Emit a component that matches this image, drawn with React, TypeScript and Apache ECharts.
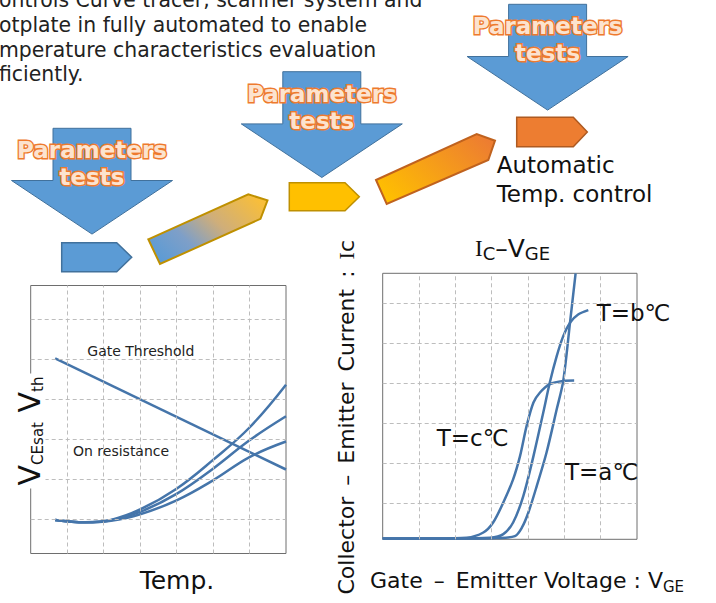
import React, { useEffect, useRef } from 'react';
import * as echarts from 'echarts';

// ---------- Left chart: V_CEsat / V_th vs Temp. ----------
const tempGridX = [1, 2, 3, 4, 5, 6];
const voltGridY = [1, 2, 3, 4, 5, 6];
const gateThreshold: number[][] = [[0.67, 5.03], [7, 2.25]];
const onResistanceA: number[][] = [[0.67, 0.99], [1.5, 0.93], [2.2, 0.99], [3, 1.25], [4, 1.77], [5, 2.49], [6, 3.3], [7, 4.37]];
const onResistanceB: number[][] = [[0.67, 0.99], [1.5, 0.93], [2.2, 0.98], [3, 1.19], [4, 1.64], [5, 2.27], [6, 2.98], [7, 3.58]];
const onResistanceC: number[][] = [[0.67, 0.99], [1.5, 0.93], [2.2, 0.97], [3, 1.13], [4, 1.48], [5, 1.98], [6, 2.56], [7, 2.95]];

// ---------- Right chart: Ic - VGE ----------
const vgeGridX = [1, 2, 3, 4, 5, 6];
const icGridY = [1, 2, 3, 4, 5, 6];
const icTempA: number[][] = [[0, 0.12], [2.5, 0.12], [3.14, 0.13], [3.64, 0.18], [3.83, 0.39], [4.01, 0.77], [4.24, 1.43], [4.51, 2.27], [4.79, 3.35], [4.97, 4.06], [5.16, 5.55], [5.31, 6.75]];
const icTempB: number[][] = [[0, 0.12], [2.0, 0.12], [2.95, 0.14], [3.32, 0.23], [3.59, 0.52], [3.87, 1.18], [4.15, 2.18], [4.42, 3.27], [4.6, 4.02], [4.79, 4.68], [4.97, 5.18], [5.16, 5.52], [5.38, 5.72], [5.66, 5.83]];
const icTempC: number[][] = [[0, 0.12], [1.5, 0.12], [2.31, 0.14], [2.77, 0.27], [3.04, 0.52], [3.32, 1.02], [3.59, 1.6], [3.78, 2.18], [3.96, 2.93], [4.15, 3.52], [4.33, 3.77], [4.6, 3.98], [4.97, 4.06], [5.27, 4.07]];

// ---------- Texts ----------
const paragraphLines = [
  'ontrols Curve tracer, scanner system and',
  'otplate in fully automated to enable',
  'mperature characteristics evaluation',
  'ficiently.',
];
const paramLabel = ['Parameters', 'tests'];
const autoLabel = ['Automatic', 'Temp. control'];
const EN = '\u2002';

const LINE = '#4575AA';
const GRIDLINE = '#BDBDBD';
const BORDER = '#6E6E6E';
const FONT = "'DejaVu Sans', 'Noto Sans CJK JP', sans-serif";

function bigArrow(cx: number, top: number) {
  const sh = 39, wh = 80.5, h1 = 52.2, h2 = 53.6;
  return {
    type: 'polygon',
    z: 10,
    shape: {
      points: [
        [cx - sh, top], [cx + sh, top], [cx + sh, top + h1], [cx + wh, top + h1],
        [cx, top + h1 + h2], [cx - wh, top + h1], [cx - sh, top + h1],
      ],
    },
    style: { fill: '#5B9BD5', stroke: '#41719C', lineWidth: 1 },
  };
}

function paramTexts(cx: number, top: number) {
  return paramLabel.map((t, i) => ({
    type: 'text',
    z: 12,
    x: cx,
    y: top + 22 + i * 27,
    style: {
      text: t,
      fontSize: 23,
      fontWeight: 'bold',
      fontFamily: FONT,
      fill: '#FCE3CF',
      stroke: '#EE7A2E',
      lineWidth: 2.8,
      align: 'center',
      verticalAlign: 'middle',
    },
  }));
}

function homePlate(x0: number, y0: number, xn: number, xt: number, y1: number, fill: string, stroke: string) {
  const ym = (y0 + y1) / 2;
  return {
    type: 'polygon',
    z: 10,
    shape: { points: [[x0, y0], [xn, y0], [xt, ym], [xn, y1], [x0, y1]] },
    style: { fill, stroke, lineWidth: 1.5 },
  };
}

function makeOption(): any {
  const markGrid = (xs: number[], ys: number[], xi: number) => ({
    type: 'line',
    xAxisIndex: xi,
    yAxisIndex: xi,
    data: [],
    silent: true,
    z: 1,
    markLine: {
      silent: true,
      symbol: ['none', 'none'],
      animation: false,
      label: { show: false },
      emphasis: { disabled: true },
      lineStyle: { type: [4, 3], color: GRIDLINE, width: 1 },
      data: [...ys.map((v) => ({ yAxis: v })), ...xs.map((v) => ({ xAxis: v }))],
    },
  });
  const curve = (data: number[][], xi: number, smooth: number | boolean) => ({
    type: 'line',
    xAxisIndex: xi,
    yAxisIndex: xi,
    data,
    smooth,
    symbol: 'none',
    silent: true,
    z: 3,
    lineStyle: { color: LINE, width: 2.5 },
  });
  const hiddenAxis = (gi: number, min: number, max: number) => ({
    gridIndex: gi,
    type: 'value',
    min,
    max,
    show: false,
    splitLine: { show: false },
  });

  const graphics: any[] = [];
  paragraphLines.forEach((t, i) => {
    graphics.push({
      type: 'text', z: 20, x: -1, y: 0.3 + i * 24.6,
      style: { text: t, fontSize: 20.4, fontFamily: FONT, fill: '#222', align: 'left', verticalAlign: 'middle' },
    });
  });
  graphics.push(bigArrow(92, 128.3), bigArrow(321.8, 71.7), bigArrow(547.6, 4.3));
  graphics.push(homePlate(61.7, 242.7, 116.7, 131.7, 271.7, '#5B9BD5', '#41719C'));
  graphics.push(homePlate(289.3, 182.7, 345, 359.3, 210.7, '#FFC000', '#BF9000'));
  graphics.push(homePlate(516.7, 117.3, 573.3, 587.3, 146.7, '#ED7D31', '#AE5A21'));
  graphics.push({
    type: 'polygon', z: 10,
    shape: { points: [[148.3, 239.3], [248.3, 194.3], [267.5, 200.3], [260.5, 218.8], [160, 264]] },
    style: {
      fill: new echarts.graphic.LinearGradient(0, 0.8, 1, 0.2, [
        { offset: 0, color: '#5B9BD5' },
        { offset: 0.3, color: '#7E9FC8' },
        { offset: 0.6, color: '#CFAE7A' },
        { offset: 1, color: '#F8BE3A' },
      ]),
      stroke: '#BF9000', lineWidth: 2,
    },
  });
  graphics.push({
    type: 'polygon', z: 10,
    shape: { points: [[376, 180], [476.7, 134], [495, 140.7], [488.3, 160], [386.7, 204]] },
    style: {
      fill: new echarts.graphic.LinearGradient(0, 0.8, 1, 0.2, [
        { offset: 0, color: '#FFC000' },
        { offset: 1, color: '#ED7D31' },
      ]),
      stroke: '#C0621E', lineWidth: 2,
    },
  });
  graphics.push(...paramTexts(92, 128.3), ...paramTexts(321.8, 71.7), ...paramTexts(547.6, 4.3));
  autoLabel.forEach((t, i) => {
    graphics.push({
      type: 'text', z: 20, x: 496.7, y: 165.3 + i * 28.4,
      style: { text: t, fontSize: 23, fontFamily: FONT, fill: '#111', align: 'left', verticalAlign: 'middle' },
    });
  });
  graphics.push({
    type: 'text', z: 20, x: 87.3, y: 351,
    style: { text: 'Gate Threshold', fontSize: 14, fontFamily: FONT, fill: '#222', align: 'left', verticalAlign: 'middle' },
  });
  graphics.push({
    type: 'text', z: 20, x: 73, y: 451,
    style: { text: 'On resistance', fontSize: 14, fontFamily: FONT, fill: '#222', align: 'left', verticalAlign: 'middle' },
  });
  graphics.push({
    type: 'text', z: 20, x: 177, y: 580,
    style: { text: 'Temp.', fontSize: 25, fontFamily: FONT, fill: '#111', align: 'center', verticalAlign: 'middle' },
  });
  graphics.push({
    type: 'text', z: 30, x: 29, y: 431, rotation: Math.PI / 2,
    style: {
      text: '{v|V}{s|CEsat}{v| V}{s|th}',
      align: 'center', verticalAlign: 'middle',
      backgroundColor: '#fff', padding: [1, 3, 0, 3],
      fill: '#111',
      rich: {
        v: { fontSize: 30, fontFamily: FONT, fill: '#111', lineHeight: 32 },
        s: { fontSize: 15, fontFamily: FONT, fill: '#111', lineHeight: 18, verticalAlign: 'bottom' },
      },
    },
  });
  graphics.push({
    type: 'text', z: 20, x: 475, y: 248,
    style: {
      text: '{i|I}{s|C}{m|–V}{s|GE}',
      align: 'left', verticalAlign: 'middle', fill: '#111',
      rich: {
        i: { fontSize: 23, fontFamily: "'Liberation Serif', serif", fill: '#111', lineHeight: 28 },
        m: { fontSize: 25, fontFamily: FONT, fill: '#111', lineHeight: 28 },
        s: { fontSize: 18, fontFamily: FONT, fill: '#111', lineHeight: 16, verticalAlign: 'bottom' },
      },
    },
  });
  graphics.push({
    type: 'text', z: 20, x: 370, y: 580,
    style: {
      text: `{m|Gate${EN}–${EN}Emitter Voltage : V}{s|GE}`,
      align: 'left', verticalAlign: 'middle', fill: '#111',
      rich: {
        m: { fontSize: 22, fontFamily: FONT, fill: '#111', lineHeight: 28 },
        s: { fontSize: 15, fontFamily: FONT, fill: '#111', lineHeight: 16, verticalAlign: 'bottom' },
      },
    },
  });
  graphics.push({
    type: 'text', z: 20, x: 346, y: 240, rotation: Math.PI / 2,
    style: {
      text: `{m|Collector${EN}–${EN}Emitter${EN}Current${EN}:${EN}}{i|I}{m|c}`,
      align: 'right', verticalAlign: 'middle', fill: '#111',
      rich: {
        m: { fontSize: 22, fontFamily: FONT, fill: '#111' },
        i: { fontSize: 22, fontFamily: "'Liberation Serif', serif", fill: '#111' },
      },
    },
  });
  const tLabels: [string, number, number][] = [['T=b℃', 596.7, 313], ['T=c℃', 436.7, 438.3], ['T=a℃', 565, 471.7]];
  tLabels.forEach(([t, x, y]) => {
    graphics.push({
      type: 'text', z: 20, x, y,
      style: { text: t, fontSize: 23, fontFamily: FONT, fill: '#111', align: 'left', verticalAlign: 'middle' },
    });
  });

  return {
    animation: false,
    backgroundColor: '#fff',
    textStyle: { fontFamily: FONT },
    grid: [
      { left: 30.7, top: 285.5, width: 255.3, height: 268, show: true, borderColor: BORDER, borderWidth: 1, backgroundColor: 'transparent' },
      { left: 382.7, top: 273.3, width: 254.3, height: 266, show: true, borderColor: BORDER, borderWidth: 1, backgroundColor: 'transparent' },
    ],
    xAxis: [hiddenAxis(0, 0, 7), hiddenAxis(1, 0, 7)],
    yAxis: [hiddenAxis(0, 0.15, 6.85), hiddenAxis(1, 0.1, 6.75)],
    series: [
      markGrid(tempGridX, voltGridY, 0),
      curve(gateThreshold, 0, false),
      curve(onResistanceA, 0, 0.4),
      curve(onResistanceB, 0, 0.4),
      curve(onResistanceC, 0, 0.4),
      markGrid(vgeGridX, icGridY, 1),
      curve(icTempA, 1, 0.3),
      curve(icTempB, 1, 0.3),
      curve(icTempC, 1, 0.3),
    ],
    graphic: { elements: graphics },
  };
}

export default function App() {
  const ref = useRef<HTMLDivElement>(null);
  useEffect(() => {
    if (!ref.current) return;
    const chart = echarts.init(ref.current, undefined, { renderer: 'svg' });
    chart.setOption(makeOption());
    return () => chart.dispose();
  }, []);
  return <div ref={ref} style={{ position: 'absolute', left: 0, top: 0, width: 716, height: 603, background: '#fff' }} />;
}
